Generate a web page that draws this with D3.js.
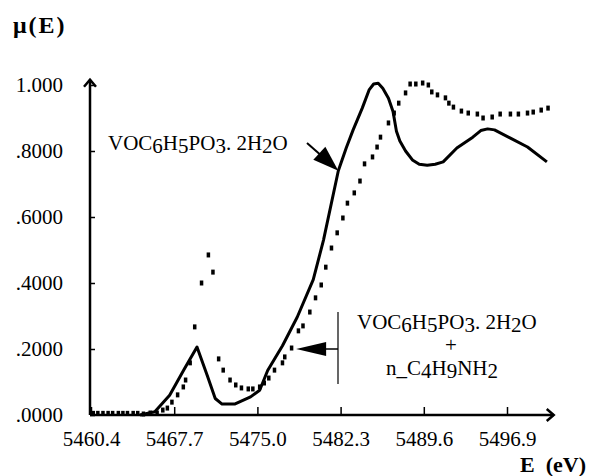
<!DOCTYPE html>
<html><head><meta charset="utf-8">
<script src="https://cdn.jsdelivr.net/npm/d3@7"></script>
<style>body{margin:0;background:#fff}svg{display:block}text{font-family:"Liberation Serif","DejaVu Serif",serif;fill:#000}</style>
</head><body><svg id="c" width="599" height="476"></svg>
<script>
const xTicks = [5460.4, 5467.7, 5475.0, 5482.3, 5489.6, 5496.9];
const xTickLabels = ["5460.4","5467.7","5475.0","5482.3","5489.6","5496.9"];
const yTicks = [1.0, 0.8, 0.6, 0.4, 0.2, 0.0];
const yTickLabels = ["1.000",".8000",".6000",".4000",".2000",".0000"];

// VOC6H5PO3.2H2O (solid line)
const solidE = [5464.7,5466.0,5467.3,5468.6,5469.7,5470.6,5471.3,5471.9,5473.0,5474.4,5475.2,5475.9,5477.2,5478.5,5479.9,5480.8,5482.1,5482.8,5483.4,5484.2,5484.8,5485.2,5485.6,5486.0,5486.5,5486.9,5487.2,5487.5,5488.0,5488.6,5489.2,5489.9,5490.6,5491.3,5492.5,5493.9,5494.6,5495.2,5495.8,5497.2,5498.7,5500.4];
const solidMu = [0.0,0.01,0.06,0.14,0.206,0.12,0.05,0.033,0.033,0.055,0.075,0.135,0.21,0.297,0.41,0.53,0.74,0.81,0.864,0.93,0.985,1.003,1.005,0.99,0.96,0.92,0.86,0.83,0.8,0.773,0.76,0.757,0.76,0.767,0.809,0.842,0.862,0.867,0.864,0.839,0.812,0.767];

// VOC6H5PO3.2H2O + n_C4H9NH2 (dotted)
const dotE = [5460.6,5461.0,5461.45,5461.9,5462.3,5462.8,5463.2,5463.6,5464.1,5464.5,5465.0,5465.6,5466.2,5466.7,5467.1,5467.5,5468.0,5468.5,5468.7,5469.1,5469.5,5470.1,5470.7,5471.1,5471.6,5472.0,5472.6,5473.1,5473.6,5474.2,5474.6,5475.2,5475.6,5476.0,5476.5,5477.2,5477.4,5478.0,5478.6,5479.0,5479.6,5480.1,5480.6,5481.0,5481.5,5482.0,5482.5,5482.9,5483.5,5484.0,5484.4,5485.1,5485.5,5485.8,5486.5,5487.0,5487.4,5488.0,5488.4,5488.9,5489.5,5490.0,5490.3,5490.8,5491.5,5491.8,5492.2,5492.9,5493.5,5494.3,5494.8,5495.6,5496.3,5497.2,5497.9,5498.7,5499.2,5499.9,5500.5];
const dotMu = [0.005,0.005,0.005,0.005,0.005,0.005,0.005,0.005,0.005,0.005,0.003,0.006,0.006,0.015,0.021,0.039,0.061,0.085,0.106,0.158,0.267,0.40,0.485,0.433,0.17,0.136,0.106,0.091,0.082,0.079,0.079,0.085,0.097,0.112,0.136,0.158,0.176,0.203,0.255,0.27,0.312,0.355,0.394,0.448,0.506,0.552,0.597,0.642,0.673,0.709,0.761,0.782,0.812,0.842,0.885,0.915,0.945,0.976,1.003,1.003,1.006,1.0,0.979,0.97,0.961,0.945,0.933,0.921,0.915,0.912,0.9,0.903,0.912,0.912,0.912,0.915,0.918,0.924,0.93];

const svg = d3.select("#c");
const x = d3.scaleLinear().domain([5460.4, 5496.9]).range([91, 507]);
const y = d3.scaleLinear().domain([0, 1]).range([415, 85]);
const xEnd = 5501.0, yTop = 1.01;

// axes lines with arrows
const ax = svg.append("g").attr("stroke","#000").attr("fill","none");
ax.append("line").attr("x1",x(5460.4)-1).attr("x2",x(xEnd)).attr("y1",y(0)).attr("y2",y(0)).attr("stroke-width",2.5);
ax.append("line").attr("x1",x(5460.4)-1).attr("x2",x(5460.4)-1).attr("y1",y(0)).attr("y2",y(yTop)-2).attr("stroke-width",2.5);
ax.append("path").attr("d",`M${x(xEnd)-7},${y(0)-6}L${x(xEnd)},${y(0)}L${x(xEnd)-7},${y(0)+6}`).attr("stroke-width",2.5);
ax.append("path").attr("d",`M${x(5460.4)-7},${y(yTop)+5}L${x(5460.4)-1},${y(yTop)-2}L${x(5460.4)+5},${y(yTop)+5}`).attr("stroke-width",2.5);

const xa = svg.append("g").attr("transform",`translate(0,${y(0)})`)
  .call(d3.axisBottom(x).tickValues(xTicks).tickSize(-8).tickPadding(16).tickFormat((d,i)=>xTickLabels[i]));
xa.select(".domain").remove();
xa.selectAll("line").attr("stroke-width",1.5);
xa.selectAll("text").attr("font-size",21).attr("font-family","Liberation Serif");

const ya = svg.append("g").attr("transform",`translate(${x(5460.4)-1},0)`)
  .call(d3.axisLeft(y).tickValues(yTicks).tickSize(-5).tickPadding(27).tickFormat((d,i)=>yTickLabels[i]));
ya.select(".domain").remove();
ya.selectAll("line").attr("stroke-width",1.5);
ya.selectAll("text").attr("font-size",21).attr("font-family","Liberation Serif");

// solid curve
const solid = solidE.map((e,i)=>[e,solidMu[i]]);
svg.append("path").datum(solid).attr("fill","none").attr("stroke","#000").attr("stroke-width",3)
  .attr("stroke-linejoin","round")
  .attr("d",d3.line().x(d=>x(d[0])).y(d=>y(d[1])));

// dotted series
const dots = dotE.map((e,i)=>[e,dotMu[i]]);
svg.append("g").selectAll("rect").data(dots).join("rect")
  .attr("x",d=>x(d[0])-1.75).attr("y",d=>y(d[1])-2.5).attr("width",3.5).attr("height",5).attr("fill","#000");

// formula helper
function formula(g, parts, size){
  const t = g.append("text").attr("font-size",size);
  parts.forEach(p=>{
    const ts = t.append("tspan").text(p[0]);
    if(p[1]) ts.attr("dy",p[1]);
  });
  return t;
}
const f1 = [["VOC"],["6",3],["H",-3],["5",3],["PO",-3],["3",3],[". 2H",-3],["2",3],["O",-3]];

// annotation 1
const a1 = svg.append("g");
formula(a1, f1, 21).attr("x",108).attr("y",150);
const tip1 = [x(5482.1), y(0.74)];
a1.append("line").attr("x1",307).attr("y1",143).attr("x2",tip1[0]-10).attr("y2",tip1[1]-9).attr("stroke","#000").attr("stroke-width",2);
a1.append("path").attr("d",`M${tip1[0]},${tip1[1]}L${tip1[0]-25},${tip1[1]-11}L${tip1[0]-13},${tip1[1]-24}Z`).attr("fill","#000");

// annotation 2
const a2 = svg.append("g");
formula(a2, f1, 21).attr("x",357).attr("y",329);
a2.append("text").attr("x",451).attr("y",352).attr("font-size",21).attr("text-anchor","middle").text("+");
formula(a2, [["n_C"],["4",3],["H",-3],["9",3],["NH",-3],["2",3]], 21).attr("x",386).attr("y",375);
a2.append("line").attr("x1",338).attr("x2",338).attr("y1",312).attr("y2",384).attr("stroke","#000").attr("stroke-width",1.2);
const tip2 = [x(5478.4), y(0.2)];
a2.append("line").attr("x1",338).attr("x2",tip2[0]+28).attr("y1",tip2[1]).attr("y2",tip2[1]).attr("stroke","#000").attr("stroke-width",1.5);
a2.append("path").attr("d",`M${tip2[0]},${tip2[1]}L${tip2[0]+30},${tip2[1]-7}L${tip2[0]+30},${tip2[1]+7}Z`).attr("fill","#000");

// axis titles
svg.append("text").attr("x",13).attr("y",33).attr("font-size",24).attr("font-weight","bold").attr("letter-spacing",2).text("μ(E)");
svg.append("text").attr("x",520).attr("y",472).attr("font-size",22).attr("font-weight","bold").attr("xml:space","preserve").text("E  (eV)");
</script></body></html>
